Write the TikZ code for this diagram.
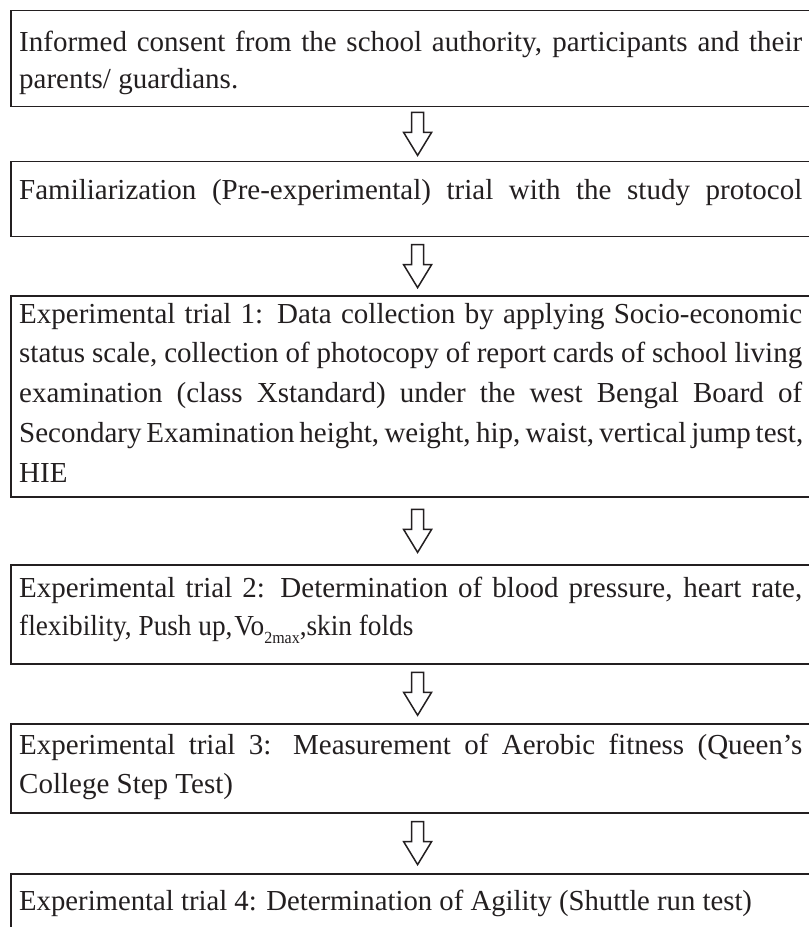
\documentclass[tikz,border=0pt]{standalone}
\usepackage{fontspec}
\usetikzlibrary{calc}
\setmainfont{Liberation Serif}
\newfontfamily\condensedA[FakeStretch=0.94]{Liberation Serif}
\newfontfamily\condensedB[FakeStretch=0.99]{Liberation Serif}
\definecolor{ink}{RGB}{35,31,32}
\newcommand\fullline[1]{\hbox to 783pt{#1}}
\newcommand\plainline[1]{\hbox{#1}}
\tikzset{
  flowbox/.style={draw=ink, line width=1.8pt, rectangle, inner sep=0pt, minimum width=813.4pt, anchor=north west},
  flowtext/.style={anchor=base west, inner sep=0pt, text=ink, font=\fontsize{29pt}{39.5pt}\selectfont},
  blockarrow/.style={draw=ink, line width=1.5pt, fill=white, line join=miter}
}
\newcommand\downarrowat[1]{%
  \draw[blockarrow] ([shift={(-6,21.5)}]#1) -- ([shift={(6,21.5)}]#1) -- ([shift={(6,1.5)}]#1) -- ([shift={(14,1.5)}]#1) -- ([shift={(0,-21.5)}]#1) -- ([shift={(-14,1.5)}]#1) -- ([shift={(-6,1.5)}]#1) -- cycle;}
\begin{document}
\begin{tikzpicture}[x=1pt,y=1pt]
\useasboundingbox[fill=white] (0,0) rectangle (809,-927);
% boxes
\node[flowbox, minimum height=96pt] (b1) at (10,-9.5) {};
\node[flowbox, minimum height=75pt] (b2) at (10,-160.5) {};
\node[flowbox, minimum height=201pt] (b3) at (10,-295) {};
\node[flowbox, minimum height=99pt] (b4) at (10,-564) {};
\node[flowbox, minimum height=89pt] (b5) at (10,-722.7) {};
\node[flowbox, minimum height=80pt] (b6) at (10,-872.7) {};
% texts
\node[flowtext] (t1) at (19,-51) {\vtop{\baselineskip=37.5pt
  \fullline{Informed consent from the school authority, participants and their}
  \plainline{parents/ guardians.}}};
\node[flowtext] (t2) at (19,-199) {\fullline{Familiarization (Pre-experimental) trial with the study protocol}};
\node[flowtext] (t3) at (19,-323) {\vtop{\baselineskip=39.75pt
  \fullline{Experimental trial 1: Data collection by applying Socio-economic}
  \fullline{status scale, collection of photocopy of report cards of school living}
  \fullline{examination (class Xstandard) under the west Bengal Board of}
  \fullline{Secondary Examination height, weight, hip, waist, vertical jump test,}
  \plainline{HIE}}};
\node[flowtext] (t4) at (19,-597) {\vtop{\baselineskip=38pt
  \fullline{Experimental trial 2: Determination of blood pressure, heart rate,}
  \plainline{\condensedA flexibility, Push up,\kern2pt Vo\raisebox{-8pt}{\fontsize{17}{17}\selectfont 2max},skin folds}}};
\node[flowtext] (t5) at (19,-754) {\vtop{\baselineskip=39pt
  \fullline{Experimental trial 3: Measurement of Aerobic fitness (Queen’s}
  \plainline{College Step Test)}}};
\node[flowtext] (t6) at (19,-910) {\plainline{\condensedB Experimental trial 4: Determination of Agility (Shuttle run test)}};
% arrows
\coordinate (m1) at ($(b1.south)!0.5!(b2.north)$);
\coordinate (m2) at ($(b2.south)!0.5!(b3.north)$);
\coordinate (m3) at ($(b3.south)!0.5!(b4.north)$);
\coordinate (m4) at ($(b4.south)!0.5!(b5.north)$);
\coordinate (m5) at ($(b5.south)!0.5!(b6.north)$);
\downarrowat{m1}
\downarrowat{m2}
\downarrowat{m3}
\downarrowat{m4}
\downarrowat{m5}
\end{tikzpicture}
\end{document}
